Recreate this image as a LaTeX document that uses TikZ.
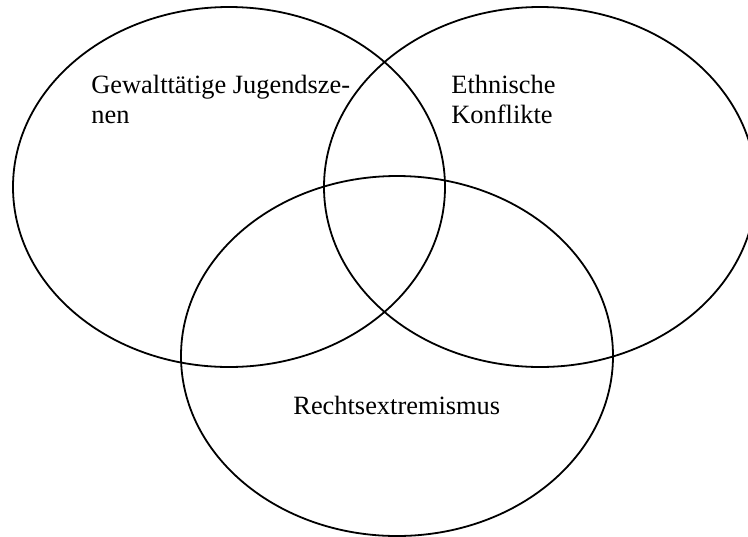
\documentclass[tikz,border=0pt]{standalone}
\usepackage{fontspec}
\setmainfont{Liberation Serif}
\usepackage{tikz}
\usetikzlibrary{
    positioning,
    shapes.geometric
}

\begin{document}
\begin{tikzpicture}[x=0.5pt, y=-0.5pt,
        menge/.style={draw, ellipse, line width=0.9pt, minimum width=216pt, minimum height=180pt, inner sep=0pt},
        beschriftung/.style={align=left, inner sep=0pt, font=\fontsize{13.2}{14.8}\selectfont}]
        % 範囲
        \useasboundingbox (0,0) rectangle (748,536);
        
        % 楕円
        \node[menge] (gewalt) at (229,187) {};
        \node[menge] (ethnisch) at (540,187) {};
        \node[menge] (rechts) at (397,356) {};
        
        % ラベル (基準線は最終行)
        \node[beschriftung, anchor=base west] (tgewalt) at (91,123) {Gewalttätige Jugendsze-\\nen};
        \node[beschriftung, anchor=base west] (tethnisch) at (451,123) {Ethnische\\Konflikte};
        \node[beschriftung, anchor=base west] (trechts) at (293,414) {Rechtsextremismus};
    \end{tikzpicture}
\end{document}
